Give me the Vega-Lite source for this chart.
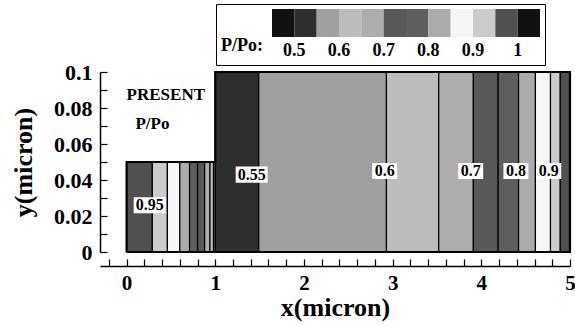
{
  "$schema": "https://vega.github.io/schema/vega-lite/v6.json",
  "width": 470,
  "height": 180,
  "autosize": {"type": "none"},
  "padding": {"left": 100, "top": 72, "right": 5, "bottom": 73},
  "background": "white",
  "config": {
    "font": "Liberation Serif",
    "view": {"stroke": null},
    "legend": {"gradientLength": 270, "gradientThickness": 28}
  },
  "datasets": {
    "bands": [
      {"x": 0.0, "x2": 0.29, "y": 0, "y2": 0.05, "p": 0.975},
      {"x": 0.29, "x2": 0.46, "y": 0, "y2": 0.05, "p": 0.925},
      {"x": 0.46, "x2": 0.6, "y": 0, "y2": 0.05, "p": 0.875},
      {"x": 0.6, "x2": 0.71, "y": 0, "y2": 0.05, "p": 0.825},
      {"x": 0.71, "x2": 0.8, "y": 0, "y2": 0.05, "p": 0.775},
      {"x": 0.8, "x2": 0.88, "y": 0, "y2": 0.05, "p": 0.725},
      {"x": 0.88, "x2": 0.94, "y": 0, "y2": 0.05, "p": 0.675},
      {"x": 0.94, "x2": 0.98, "y": 0, "y2": 0.05, "p": 0.625},
      {"x": 0.98, "x2": 1.0, "y": 0, "y2": 0.05, "p": 0.575},
      {"x": 1.0, "x2": 1.49, "y": 0, "y2": 0.1, "p": 0.525},
      {"x": 1.49, "x2": 2.93, "y": 0, "y2": 0.1, "p": 0.575},
      {"x": 2.93, "x2": 3.52, "y": 0, "y2": 0.1, "p": 0.625},
      {"x": 3.52, "x2": 3.91, "y": 0, "y2": 0.1, "p": 0.675},
      {"x": 3.91, "x2": 4.19, "y": 0, "y2": 0.1, "p": 0.725},
      {"x": 4.19, "x2": 4.42, "y": 0, "y2": 0.1, "p": 0.775},
      {"x": 4.42, "x2": 4.61, "y": 0, "y2": 0.1, "p": 0.825},
      {"x": 4.61, "x2": 4.78, "y": 0, "y2": 0.1, "p": 0.875},
      {"x": 4.78, "x2": 4.89, "y": 0, "y2": 0.1, "p": 0.925},
      {"x": 4.89, "x2": 5.0, "y": 0, "y2": 0.1, "p": 0.975}
    ],
    "outline": [
      {"i": 0, "x": 0, "y": 0},
      {"i": 1, "x": 0, "y": 0.05},
      {"i": 2, "x": 1, "y": 0.05},
      {"i": 3, "x": 1, "y": 0.1},
      {"i": 4, "x": 5, "y": 0.1},
      {"i": 5, "x": 5, "y": 0},
      {"i": 6, "x": 0, "y": 0}
    ],
    "contourLabels": [
      {"x": 0.26, "y": 0.026, "label": "0.95"},
      {"x": 1.41, "y": 0.043, "label": "0.55"},
      {"x": 2.91, "y": 0.045, "label": "0.6"},
      {"x": 3.88, "y": 0.045, "label": "0.7"},
      {"x": 4.39, "y": 0.045, "label": "0.8"},
      {"x": 4.76, "y": 0.045, "label": "0.9"}
    ],
    "notes": [
      {"x": 0.0, "y": 0.087, "t": "PRESENT"},
      {"x": 0.1, "y": 0.071, "t": "P/Po"}
    ]
  },
  "encoding": {
    "x": {
      "field": "x",
      "type": "quantitative",
      "scale": {"domain": [-0.3, 5], "nice": false, "zero": false},
      "axis": {
        "title": "x(micron)",
        "values": [-0.2, 0, 0.2, 0.4, 0.6, 0.8, 1, 1.2, 1.4, 1.6, 1.8, 2, 2.2, 2.4, 2.6, 2.8, 3, 3.2, 3.4, 3.6, 3.8, 4, 4.2, 4.4, 4.6, 4.8, 5],
        "labelExpr": "abs(datum.value - round(datum.value)) < 0.001 && datum.value >= 0 ? format(datum.value, 'd') : ''",
        "offset": 14,
        "grid": false,
        "domainColor": "black",
        "domainWidth": 1.5,
        "tickColor": "black",
        "tickWidth": 1.2,
        "tickSize": -7,
        "labelPadding": 13,
        "labelFont": "Liberation Serif",
        "labelFontSize": 21,
        "labelFontWeight": "bold",
        "labelColor": "black",
        "labelOverlap": false,
        "labelFlush": false,
        "titleFont": "Liberation Serif",
        "titleFontSize": 26,
        "titleFontWeight": "bold",
        "titleColor": "black",
        "titlePadding": 1,
        "encode": {
          "ticks": {"update": {"y2": {"signal": "abs(datum.value - round(datum.value)) < 0.001 ? -7 : -4"}}}
        }
      }
    },
    "y": {
      "field": "y",
      "type": "quantitative",
      "scale": {"domain": [0, 0.1], "nice": false, "zero": false},
      "axis": {
        "title": "y(micron)",
        "values": [0, 0.01, 0.02, 0.03, 0.04, 0.05, 0.06, 0.07, 0.08, 0.09, 0.1],
        "labelExpr": "abs(datum.value * 50 - round(datum.value * 50)) < 0.001 ? format(datum.value, '~g') : ''",
        "grid": false,
        "domainColor": "black",
        "domainWidth": 1.5,
        "tickColor": "black",
        "tickWidth": 1.2,
        "tickSize": -7,
        "labelPadding": 15,
        "labelFont": "Liberation Serif",
        "labelFontSize": 22,
        "labelFontWeight": "bold",
        "labelColor": "black",
        "labelOverlap": false,
        "labelFlush": false,
        "titleFont": "Liberation Serif",
        "titleFontSize": 26,
        "titleFontWeight": "bold",
        "titleColor": "black",
        "titlePadding": 17,
        "encode": {
          "ticks": {"update": {"x2": {"signal": "abs(datum.value * 50 - round(datum.value * 50)) < 0.001 ? 7 : 4"}}}
        }
      }
    }
  },
  "layer": [
    {
      "data": {"name": "bands"},
      "mark": {"type": "rect", "stroke": "black", "strokeWidth": 1.2},
      "encoding": {
        "x2": {"field": "x2"},
        "y2": {"field": "y2"},
        "color": {
          "field": "p",
          "type": "quantitative",
          "scale": {
            "type": "threshold",
            "domain": [0.5, 0.55, 0.6, 0.65, 0.7, 0.75, 0.8, 0.85, 0.9, 0.95, 1.0],
            "range": ["#111111", "#2e2e2e", "#a0a0a0", "#bcbcbc", "#adadad", "#585858", "#5e5e5e", "#ababab", "#f6f6f6", "#cbcbcb", "#505050", "#111111"]
          },
          "legend": {
            "type": "gradient",
            "title": ["", "P/Po:"],
            "orient": "none",
            "legendX": 116,
            "legendY": -68,
            "direction": "horizontal",
            "gradientLength": 268,
            "gradientThickness": 28,
            "gradientStrokeWidth": 0,
            "titleOrient": "left",
            "titleBaseline": "top",
            "titleLineHeight": 33,
            "titlePadding": 9,
            "titleFont": "Liberation Serif",
            "titleFontSize": 18,
            "titleFontWeight": "bold",
            "titleColor": "black",
            "labelFont": "Liberation Serif",
            "labelFontSize": 18,
            "labelFontWeight": "bold",
            "labelColor": "black",
            "labelOffset": 5,
            "labelOverlap": false,
            "labelExpr": "datum.value >= 0.999 ? '1' : (abs(datum.value * 10 - round(datum.value * 10)) < 0.001 ? format(datum.value, '.1f') : '')",
            "strokeColor": "black",
            "fillColor": "white",
            "padding": 5
          }
        }
      }
    },
    {
      "data": {"name": "outline"},
      "mark": {"type": "line", "color": "black", "strokeWidth": 2.2},
      "encoding": {"order": {"field": "i", "type": "quantitative"}}
    },
    {
      "data": {"name": "contourLabels"},
      "mark": {"type": "point", "filled": true, "color": "white", "opacity": 1, "size": 650, "strokeWidth": 0},
      "encoding": {
        "shape": {
          "field": "label",
          "type": "nominal",
          "scale": {
            "domain": ["0.95", "0.55", "0.6", "0.7", "0.8", "0.9"],
            "range": [
              "M-1.25,-0.63H1.25V0.63H-1.25Z",
              "M-1.25,-0.63H1.25V0.63H-1.25Z",
              "M-0.98,-0.63H0.98V0.63H-0.98Z",
              "M-0.98,-0.63H0.98V0.63H-0.98Z",
              "M-0.98,-0.63H0.98V0.63H-0.98Z",
              "M-0.98,-0.63H0.98V0.63H-0.98Z"
            ]
          },
          "legend": null
        }
      }
    },
    {
      "data": {"name": "contourLabels"},
      "mark": {"type": "text", "font": "Liberation Serif", "fontWeight": "bold", "fontSize": 16, "color": "black", "baseline": "middle", "align": "center"},
      "encoding": {"text": {"field": "label", "type": "nominal"}}
    },
    {
      "data": {"name": "notes"},
      "mark": {"type": "text", "font": "Liberation Serif", "fontWeight": "bold", "fontSize": 17, "color": "black", "baseline": "middle", "align": "left"},
      "encoding": {"text": {"field": "t", "type": "nominal"}}
    }
  ]
}
